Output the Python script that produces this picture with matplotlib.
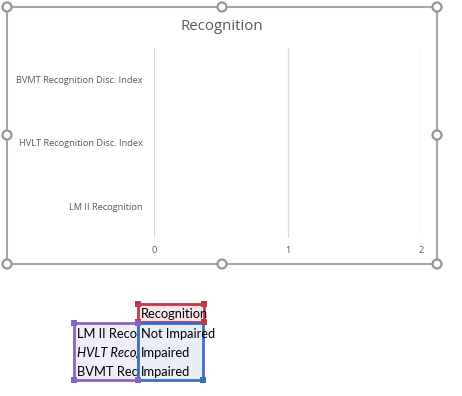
import matplotlib.pyplot as plt
from matplotlib.patches import Rectangle, Circle
import numpy as np

categories = ['LM II Recognition', 'HVLT Recognition Disc. Index', 'BVMT Recognition Disc. Index']
values = [0, 0, 0]          # text values in the sheet -> plotted as zero
status = ['Not Impaired', 'Impaired', 'Impaired']
header = 'Recognition'
xticks = [0, 1, 2]

W, H = 462, 396
fig = plt.figure(figsize=(W / 100, H / 100), dpi=100)

# background layer in pixel coordinates
bg = fig.add_axes([0, 0, 1, 1])
bg.set_xlim(0, W)
bg.set_ylim(H, 0)
bg.axis('off')

# chart frame and selection handles
bg.add_patch(Rectangle((7, 7), 430, 257, fill=False, ec='#a6a6a6', lw=1.5))
for hx, hy in [(7, 7), (222, 7), (437, 7), (7, 135), (437, 135), (7, 264), (222, 264), (437, 264)]:
    bg.add_patch(Circle((hx, hy), 4.5, fc='white', ec='#969696', lw=1.6, zorder=5))

bg.text(222, 26, header, ha='center', va='center', fontsize=10.8, color='#595959', family='Open Sans')

# plot area
ax = fig.add_axes([154 / W, 1 - 238 / H, 267 / W, 190 / H])
ypos = np.arange(len(categories))
ax.barh(ypos, values, color='#4472c4', height=0.6)
ax.set_xlim(0, 2)
ax.set_ylim(-0.5, len(categories) - 0.5)
ax.set_xticks(xticks)
ax.set_yticks(ypos)
ax.set_yticklabels(categories)
ax.grid(axis='x', color='#d9d9d9', lw=0.9)
ax.set_axisbelow(True)
for s in ax.spines.values():
    s.set_visible(False)
ax.tick_params(length=0, labelsize=6.7, labelcolor='#595959')
ax.tick_params(axis='y', pad=8)
ax.tick_params(axis='x', pad=6)
for t in ax.get_xticklabels() + ax.get_yticklabels():
    t.set_family('Open Sans')
ax.patch.set_alpha(0)

# cell selection below the chart
cell_h = 19
top = 323
# header cell (red)
bg.add_patch(Rectangle((138, 304), 66, 18, fc='#fbe6e8', ec='#c0394b', lw=2, zorder=2))
bg.text(141, 314, header, ha='left', va='center', fontsize=9.3, family='Lato', color='black', zorder=3)
# left column (purple) and right column (blue)
bg.add_patch(Rectangle((74, top), 64, cell_h * 3, fc='#f1edf8', ec='#8a63bf', lw=2, zorder=2))
bg.add_patch(Rectangle((138, top), 65, cell_h * 3, fc='#e9eff9', ec='#3a6fc6', lw=2, zorder=2))
clip = Rectangle((74, top), 63, cell_h * 3, transform=bg.transData)
for i, (c, s) in enumerate(zip(categories, status)):
    yc = top + cell_h * i + cell_h / 2 + 1.5
    t = bg.text(77, yc, c, ha='left', va='center', fontsize=9.3, family='Lato', color='black',
                style='italic' if i == 1 else 'normal', zorder=3, clip_on=True)
    t.set_clip_path(clip)
    bg.text(141, yc, s, ha='left', va='center', fontsize=9.3, family='Lato', color='black', zorder=3)

# small square handles
for hx, hy, col in [(138, 304, '#c0394b'), (204, 304, '#c0394b'), (138, 322, '#c0394b'), (204, 322, '#c0394b'),
                    (74, 323, '#8a63bf'), (138, 323, '#8a63bf'), (74, 380, '#8a63bf'), (138, 380, '#8a63bf'),
                    (203, 380, '#3a6fc6')]:
    bg.add_patch(Rectangle((hx - 3, hy - 3), 6, 6, fc=col, ec='none', zorder=6))

fig.savefig('out.png', dpi=100)
